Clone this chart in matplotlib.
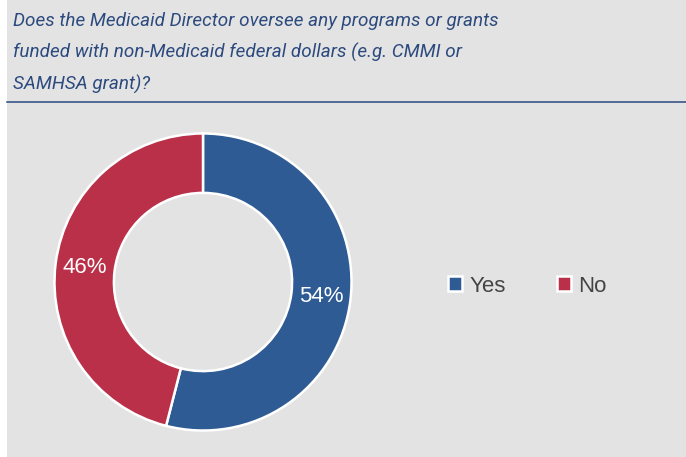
import matplotlib.pyplot as plt
from matplotlib.lines import Line2D
from matplotlib.patches import Rectangle

plt.rcParams['font.family'] = ['Liberation Sans', 'DejaVu Sans']

# survey answers
labels = ['Yes', 'No']
shares = [54, 46]
colors = ['#2e5b94', '#b93048']
title = ('Does the Medicaid Director oversee any programs or grants\n'
         'funded with non-Medicaid federal dollars (e.g. CMMI or\n'
         'SAMHSA grant)?')

W, H = 686, 457
bg = '#e3e3e3'
fig = plt.figure(figsize=(W / 100, H / 100), dpi=100, facecolor=bg)

# thin white margin on the left edge
fig.add_artist(Rectangle((0, 0), 7 / W, 1, transform=fig.transFigure,
                         facecolor='white', edgecolor='none'))

fig.text(13 / W, 1 - 12 / H, title, ha='left', va='top', style='italic',
         fontsize=13.6, color='#2c4a7e', linespacing=1.86,
         family=['Roboto', 'DejaVu Sans'])
fig.add_artist(Line2D([7 / W, 1], [1 - 102 / H] * 2, transform=fig.transFigure,
                      color='#2c4a80', lw=1.1))

# donut
cx, cy, r = 203, 282, 150
ax = fig.add_axes([(cx - r) / W, (H - cy - r) / H, 2 * r / W, 2 * r / H])
ax.set_facecolor('none')
wedges, _, autotexts = ax.pie(
    shares, colors=colors, startangle=90, counterclock=False,
    autopct='%d%%', pctdistance=0.8,
    wedgeprops=dict(width=0.4, edgecolor='white', linewidth=1.8),
    textprops=dict(color='white', fontsize=16))
ax.set_xlim(-1.01, 1.01)
ax.set_ylim(-1.01, 1.01)
ax.set_aspect('equal')
ax.axis('off')

fig.legend(wedges, labels, loc='center left',
           bbox_to_anchor=(428 / W, 1 - 286 / H), ncol=2, frameon=False,
           handlelength=0.65, handleheight=0.65, handletextpad=0.3,
           columnspacing=2.3, fontsize=16, labelcolor='#444444')

fig.savefig('out.png', dpi=100, facecolor=bg)
